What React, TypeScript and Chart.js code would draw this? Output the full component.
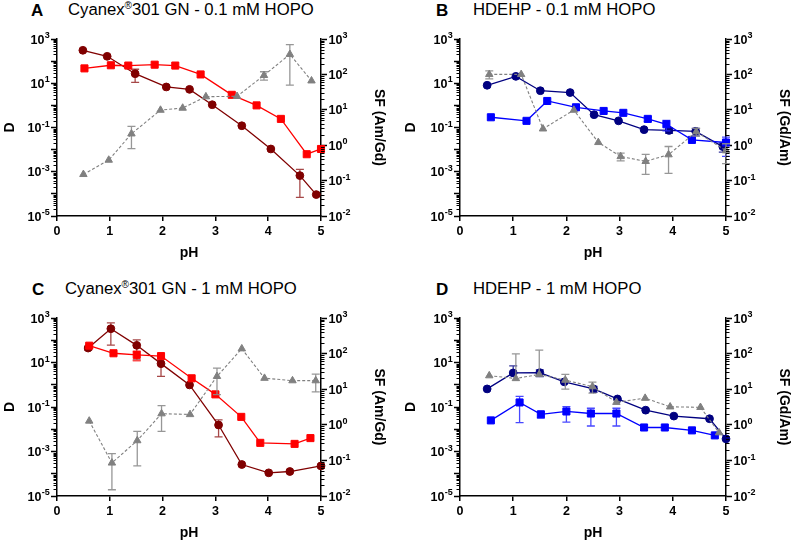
import React, { useEffect, useRef } from 'react';
import { Chart, registerables } from 'chart.js';

Chart.register(...registerables);

const FONT = "'Liberation Sans', Arial, Helvetica, sans-serif";

// ---------- Panel A: Cyanex 301 GN - 0.1 mM HOPO ----------
const A_circle_pH = [0.49, 0.95, 1.48, 2.07, 2.51, 2.94, 3.5, 4.05, 4.6, 4.91];
const A_circle_D = [309, 165, 27, 6.8, 5.3, 1.07, 0.12, 0.0107, 0.00067, 0.000093];
const A_circle_err = [0, 0, 16, 0, 0, 0, 0, 0, 0.0006, 0];
const A_square_pH = [0.52, 1.02, 1.35, 1.85, 2.24, 2.72, 3.31, 3.78, 4.24, 4.73, 5.0];
const A_square_D = [47, 65, 63, 69, 63, 25, 3.0, 1.0, 0.245, 0.0062, 0.0107];
const A_square_err = [0, 0, 0, 0, 0, 0, 0, 0, 0, 0, 0];
const A_sf_pH = [0.5, 0.98, 1.41, 1.96, 2.38, 2.82, 3.41, 3.92, 4.41, 4.82];
const A_sf = [0.15, 0.38, 2.1, 9.8, 11.2, 23.5, 24, 94, 370, 66];
const A_sf_err = [0, 0, 1.3, 0, 0, 0, 0, 25, 320, 0];

// ---------- Panel B: HDEHP - 0.1 mM HOPO ----------
const B_circle_pH = [0.51, 1.05, 1.51, 2.07, 2.52, 2.98, 3.46, 3.93, 4.43, 4.94];
const B_circle_D = [8.1, 20.5, 4.6, 3.8, 0.38, 0.2, 0.08, 0.074, 0.067, 0.0137];
const B_circle_err = [0, 0, 0, 0, 0, 0, 0, 0.02, 0.025, 0.006];
const B_square_pH = [0.58, 1.25, 1.64, 2.18, 2.7, 3.07, 3.53, 3.88, 4.36, 5.0];
const B_square_D = [0.29, 0.2, 1.58, 0.82, 0.56, 0.46, 0.245, 0.14, 0.0275, 0.021];
const B_square_err = [0, 0, 0, 0, 0, 0, 0.06, 0.07, 0, 0.016];
const B_sf_pH = [0.55, 1.15, 1.56, 2.14, 2.6, 3.02, 3.49, 3.92, 4.44, 5.0];
const B_sf = [100, 100, 2.9, 9.8, 1.2, 0.48, 0.35, 0.54, 2.4, 0.7];
const B_sf_err = [25, 0, 0, 0, 0, 0.12, 0.2, 0.38, 0.6, 0.4];

// ---------- Panel C: Cyanex 301 GN - 1 mM HOPO ----------
const C_circle_pH = [0.59, 1.02, 1.51, 1.97, 2.51, 3.06, 3.5, 4.01, 4.41, 5.0];
const C_circle_D = [44.5, 330, 59, 8.9, 0.98, 0.0155, 0.00026, 0.00011, 0.000126, 0.000225];
const C_circle_err = [8, 270, 46, 6.5, 0, 0.011, 0, 0, 0, 0.00004];
const C_square_pH = [0.61, 1.07, 1.51, 1.97, 2.55, 3.0, 3.49, 3.85, 4.5, 4.8];
const C_square_D = [57, 26, 22, 19.4, 1.95, 0.37, 0.036, 0.00245, 0.0022, 0.004];
const C_square_err = [0, 0, 10, 0, 0, 0, 0, 0, 0, 0];
const C_sf_pH = [0.61, 1.04, 1.52, 1.98, 2.52, 3.03, 3.5, 3.93, 4.46, 4.9];
const C_sf = [1.28, 0.085, 0.36, 2.05, 1.95, 23, 137, 20.4, 17.4, 17.4];
const C_sf_err = [0, 0.07, 0.29, 1.4, 0, 16, 0, 0, 0, 9];

// ---------- Panel D: HDEHP - 1 mM HOPO ----------
const D_circle_pH = [0.51, 1.0, 1.5, 1.96, 2.51, 2.96, 3.49, 4.02, 4.69, 5.0];
const D_circle_D = [0.65, 3.4, 3.5, 1.35, 0.65, 0.23, 0.072, 0.039, 0.0297, 0.0037];
const D_circle_err = [0, 3.7, 1.2, 0, 0.2, 0, 0, 0, 0, 0];
const D_square_pH = [0.58, 1.12, 1.52, 2.0, 2.46, 2.94, 3.46, 3.85, 4.36, 4.79];
const D_square_D = [0.025, 0.16, 0.047, 0.063, 0.051, 0.051, 0.012, 0.012, 0.0089, 0.0053];
const D_square_err = [0, 0.14, 0.015, 0.042, 0.037, 0.037, 0, 0, 0, 0];
const D_sf_pH = [0.55, 1.05, 1.49, 1.98, 2.49, 2.94, 3.48, 3.95, 4.52, 4.87];
const D_sf = [24, 20, 26, 18, 11.8, 4.3, 5.6, 3.2, 3.1, 0.6];
const D_sf_err = [0, 78, 100, 8, 4, 0, 0, 0, 0, 0];

// ---------- Axes ----------
const X_TICKS = [0, 1, 2, 3, 4, 5];
const D_LABEL_EXPS = [3, 1, -1, -3, -5];
const SF_LABEL_EXPS = [3, 2, 1, 0, -1, -2];

const isPow10 = (v: number) => {
  const l = Math.log10(v);
  return Math.abs(l - Math.round(l)) < 1e-6;
};
const logTicks = (minExp: number, maxExp: number) => {
  const out: number[] = [];
  for (let e = minExp; e < maxExp; e++) {
    for (let k = 1; k <= 9; k++) out.push(Number((k * Math.pow(10, e)).toPrecision(10)));
  }
  out.push(Math.pow(10, maxExp));
  return out;
};

const errorBarPlugin = {
  id: 'errorBars',
  beforeDatasetDraw(chart: any, args: any) {
    const ds = chart.data.datasets[args.index];
    if (!ds.errors) return;
    const meta = chart.getDatasetMeta(args.index);
    const xs = chart.scales[meta.xAxisID];
    const ys = chart.scales[meta.yAxisID];
    const ctx = chart.ctx;
    ctx.save();
    ctx.strokeStyle = ds.errorColor;
    ctx.lineWidth = 1.3;
    ds.data.forEach((p: any, i: number) => {
      const e = ds.errors[i];
      if (!e) return;
      const x = xs.getPixelForValue(p.x);
      const mid = ys.getPixelForValue(p.y);
      const hi = ys.getPixelForValue(p.y + e);
      const loVal = p.y - e;
      const hasLow = loVal > ys.min;
      const lo = hasLow ? ys.getPixelForValue(loVal) : mid;
      ctx.beginPath();
      ctx.moveTo(x, hi);
      ctx.lineTo(x, lo);
      ctx.moveTo(x - 4, hi);
      ctx.lineTo(x + 4, hi);
      if (hasLow) {
        ctx.moveTo(x - 4, lo);
        ctx.lineTo(x + 4, lo);
      }
      ctx.stroke();
    });
    ctx.restore();
  },
};

// minor ticks and "10^n" tick labels with real superscripts
const logAxisPlugin = {
  id: 'logAxis',
  afterDraw(chart: any) {
    const ctx = chart.ctx;
    ['y', 'y2'].forEach((id) => {
      const s = chart.scales[id];
      if (!s) return;
      const left = s.position === 'left';
      const x0 = left ? chart.chartArea.left : chart.chartArea.right;
      ctx.save();
      ctx.strokeStyle = '#000';
      ctx.lineWidth = 1;
      s.ticks.forEach((t: any) => {
        if (isPow10(t.value)) return;
        const y = Math.round(s.getPixelForValue(t.value)) + 0.5;
        ctx.beginPath();
        ctx.moveTo(x0, y);
        ctx.lineTo(left ? x0 - 3.5 : x0 + 3.5, y);
        ctx.stroke();
      });
      const exps: number[] = left ? D_LABEL_EXPS : SF_LABEL_EXPS;
      ctx.fillStyle = '#000';
      ctx.textBaseline = 'alphabetic';
      ctx.textAlign = 'left';
      exps.forEach((e) => {
        const y = s.getPixelForValue(Math.pow(10, e));
        const expStr = String(e);
        ctx.font = `bold 12.5px ${FONT}`;
        const w1 = ctx.measureText('10').width;
        ctx.font = `bold 9px ${FONT}`;
        const w2 = ctx.measureText(expStr).width;
        const xs = left ? x0 - 7.5 - w1 - w2 : x0 + 7.5;
        ctx.font = `bold 12.5px ${FONT}`;
        ctx.fillText('10', xs, y + 4.5);
        ctx.font = `bold 9px ${FONT}`;
        ctx.fillText(expStr, xs + w1 + 0.2, y - 0.8);
      });
      ctx.restore();
    });
  },
};

type Series = { pH: number[]; v: number[]; err: number[] };
type PanelCfg = {
  left: number; top: number; w: number; h: number;
  yLeftW: number; yRightW: number; padTop: number; xH: number;
  leftTitlePad: number; rightTitlePad: number;
  sfTitle: string;
  circleColor: string; squareColor: string; circleErr: string; squareErr: string;
  circle: Series; square: Series; sf: Series;
};

const pts = (s: Series) => s.pH.map((x, i) => ({ x, y: s.v[i] }));

const tickFont = { family: FONT, size: 12.5, weight: 'bold' as const };
const titleFont = { family: FONT, size: 14, weight: 'bold' as const, lineHeight: 1 };

const PANELS: PanelCfg[] = [
  {
    left: 0, top: 30, w: 391, h: 232, yLeftW: 57, yRightW: 70, padTop: 9, xH: 46,
    leftTitlePad: 3, rightTitlePad: 5, sfTitle: 'SF (Am/Gd)',
    circleColor: '#800000', squareColor: '#ff0000',
    circleErr: 'rgba(150,40,40,0.85)', squareErr: 'rgba(255,60,60,0.85)',
    circle: { pH: A_circle_pH, v: A_circle_D, err: A_circle_err },
    square: { pH: A_square_pH, v: A_square_D, err: A_square_err },
    sf: { pH: A_sf_pH, v: A_sf, err: A_sf_err },
  },
  {
    left: 400, top: 30, w: 391, h: 232, yLeftW: 60, yRightW: 65, padTop: 9, xH: 46,
    leftTitlePad: 4, rightTitlePad: 0, sfTitle: 'SF (Gd/Am)',
    circleColor: '#000080', squareColor: '#0000ff',
    circleErr: 'rgba(20,20,140,0.85)', squareErr: 'rgba(40,40,255,0.85)',
    circle: { pH: B_circle_pH, v: B_circle_D, err: B_circle_err },
    square: { pH: B_square_pH, v: B_square_D, err: B_square_err },
    sf: { pH: B_sf_pH, v: B_sf, err: B_sf_err },
  },
  {
    left: 0, top: 309, w: 391, h: 233, yLeftW: 57, yRightW: 70, padTop: 9, xH: 46,
    leftTitlePad: 3, rightTitlePad: 5, sfTitle: 'SF (Am/Gd)',
    circleColor: '#800000', squareColor: '#ff0000',
    circleErr: 'rgba(150,40,40,0.85)', squareErr: 'rgba(255,60,60,0.85)',
    circle: { pH: C_circle_pH, v: C_circle_D, err: C_circle_err },
    square: { pH: C_square_pH, v: C_square_D, err: C_square_err },
    sf: { pH: C_sf_pH, v: C_sf, err: C_sf_err },
  },
  {
    left: 400, top: 309, w: 391, h: 233, yLeftW: 60, yRightW: 65, padTop: 9, xH: 46,
    leftTitlePad: 4, rightTitlePad: 0, sfTitle: 'SF (Gd/Am)',
    circleColor: '#000080', squareColor: '#0000ff',
    circleErr: 'rgba(20,20,140,0.85)', squareErr: 'rgba(40,40,255,0.85)',
    circle: { pH: D_circle_pH, v: D_circle_D, err: D_circle_err },
    square: { pH: D_square_pH, v: D_square_D, err: D_square_err },
    sf: { pH: D_sf_pH, v: D_sf, err: D_sf_err },
  },
];

const TITLES = [
  { letter: 'A', lx: 31, tx: 68, base: 16, extractant: 'Cyanex', reg: true, rest: '301 GN - 0.1 mM HOPO' },
  { letter: 'B', lx: 436, tx: 473, base: 16, extractant: 'HDEHP', reg: false, rest: ' - 0.1 mM HOPO' },
  { letter: 'C', lx: 32, tx: 65, base: 295, extractant: 'Cyanex', reg: true, rest: '301 GN - 1 mM HOPO' },
  { letter: 'D', lx: 436, tx: 473, base: 295, extractant: 'HDEHP', reg: false, rest: ' - 1 mM HOPO' },
];

function Panel({ cfg }: { cfg: PanelCfg }) {
  const ref = useRef<HTMLCanvasElement>(null);
  useEffect(() => {
    const majorTick = (c: any) => (c.tick && isPow10(c.tick.value) ? '#000' : 'rgba(0,0,0,0)');
    const chart = new Chart(ref.current as HTMLCanvasElement, {
      type: 'scatter',
      data: {
        datasets: [
          {
            data: pts(cfg.sf),
            yAxisID: 'y2',
            showLine: true,
            borderColor: '#808080',
            backgroundColor: '#808080',
            borderWidth: 1.1,
            borderDash: [3, 2],
            pointStyle: 'triangle',
            pointRadius: 4.3,
            pointBorderWidth: 1,
            clip: false,
            errors: cfg.sf.err,
            errorColor: 'rgba(140,140,140,0.9)',
          } as any,
          {
            data: pts(cfg.square),
            yAxisID: 'y',
            showLine: true,
            borderColor: cfg.squareColor,
            backgroundColor: cfg.squareColor,
            borderWidth: 1.3,
            pointStyle: 'rect',
            pointRadius: 5,
            pointBorderWidth: 1,
            clip: false,
            errors: cfg.square.err,
            errorColor: cfg.squareErr,
          } as any,
          {
            data: pts(cfg.circle),
            yAxisID: 'y',
            showLine: true,
            borderColor: cfg.circleColor,
            backgroundColor: cfg.circleColor,
            borderWidth: 1.3,
            pointStyle: 'circle',
            pointRadius: 3.9,
            pointBorderWidth: 1,
            clip: false,
            errors: cfg.circle.err,
            errorColor: cfg.circleErr,
          } as any,
        ],
      },
      options: {
        animation: false,
        responsive: false,
        events: [],
        layout: { padding: { top: cfg.padTop, left: 0, right: 0, bottom: 0 } },
        plugins: { legend: { display: false }, tooltip: { enabled: false }, title: { display: false } },
        scales: {
          x: {
            type: 'linear',
            min: 0,
            max: 5,
            afterBuildTicks: (s: any) => { s.ticks = X_TICKS.map((value) => ({ value })); },
            afterFit: (s: any) => { s.height = cfg.xH; },
            ticks: { font: tickFont, color: '#000', padding: 3, autoSkip: false, maxRotation: 0 },
            grid: { drawOnChartArea: false, drawTicks: true, tickLength: 5, color: '#000', lineWidth: 1.5 },
            border: { display: true, color: '#000', width: 1.5 },
            title: { display: true, text: 'pH', font: titleFont, color: '#000', padding: { top: 0, bottom: 2 } },
          },
          y: {
            type: 'logarithmic',
            position: 'left',
            min: 1e-5,
            max: 1e3,
            afterBuildTicks: (s: any) => { s.ticks = logTicks(-5, 3).map((value) => ({ value })); },
            afterFit: (s: any) => { s.width = cfg.yLeftW; },
            ticks: { display: false, autoSkip: false },
            grid: { drawOnChartArea: false, drawTicks: true, tickLength: 6, tickColor: majorTick, tickWidth: 1.5 },
            border: { display: true, color: '#000', width: 1.5 },
            title: { display: true, text: 'D', font: titleFont, color: '#000', padding: { top: cfg.leftTitlePad, bottom: 0 } },
          },
          y2: {
            type: 'logarithmic',
            position: 'right',
            min: 1e-2,
            max: 1e3,
            afterBuildTicks: (s: any) => { s.ticks = logTicks(-2, 3).map((value) => ({ value })); },
            afterFit: (s: any) => { s.width = cfg.yRightW; },
            ticks: { display: false, autoSkip: false },
            grid: { drawOnChartArea: false, drawTicks: true, tickLength: 6, tickColor: majorTick, tickWidth: 1.5 },
            border: { display: true, color: '#000', width: 1.5 },
            title: { display: true, text: cfg.sfTitle, font: titleFont, color: '#000', padding: { top: cfg.rightTitlePad, bottom: 0 } },
          },
        },
      } as any,
      plugins: [errorBarPlugin, logAxisPlugin],
    });
    return () => chart.destroy();
  }, [cfg]);
  return (
    <canvas
      ref={ref}
      width={cfg.w}
      height={cfg.h}
      style={{ position: 'absolute', left: cfg.left, top: cfg.top, width: cfg.w, height: cfg.h }}
    />
  );
}

export default function App() {
  const letterSize = 17;
  const textSize = 16.7;
  return (
    <div
      style={{
        position: 'absolute', left: 0, top: 0, width: 791, height: 543,
        background: '#fff', overflow: 'hidden', fontFamily: FONT, color: '#000',
      }}
    >
      {TITLES.map((t) => (
        <React.Fragment key={t.letter}>
          <div
            style={{
              position: 'absolute', left: t.lx, top: t.base - 0.8465 * letterSize,
              fontSize: letterSize, lineHeight: `${letterSize}px`, fontWeight: 'bold', whiteSpace: 'nowrap',
            }}
          >
            {t.letter}
          </div>
          <div
            style={{
              position: 'absolute', left: t.tx, top: t.base - 0.8465 * textSize,
              fontSize: textSize, lineHeight: `${textSize}px`, whiteSpace: 'nowrap',
            }}
          >
            {t.extractant}
            {t.reg ? (
              <span style={{ fontSize: '0.6em', verticalAlign: '0.65em', lineHeight: 0 }}>®</span>
            ) : null}
            {t.rest}
          </div>
        </React.Fragment>
      ))}
      {PANELS.map((p, i) => (
        <Panel key={i} cfg={p} />
      ))}
    </div>
  );
}
